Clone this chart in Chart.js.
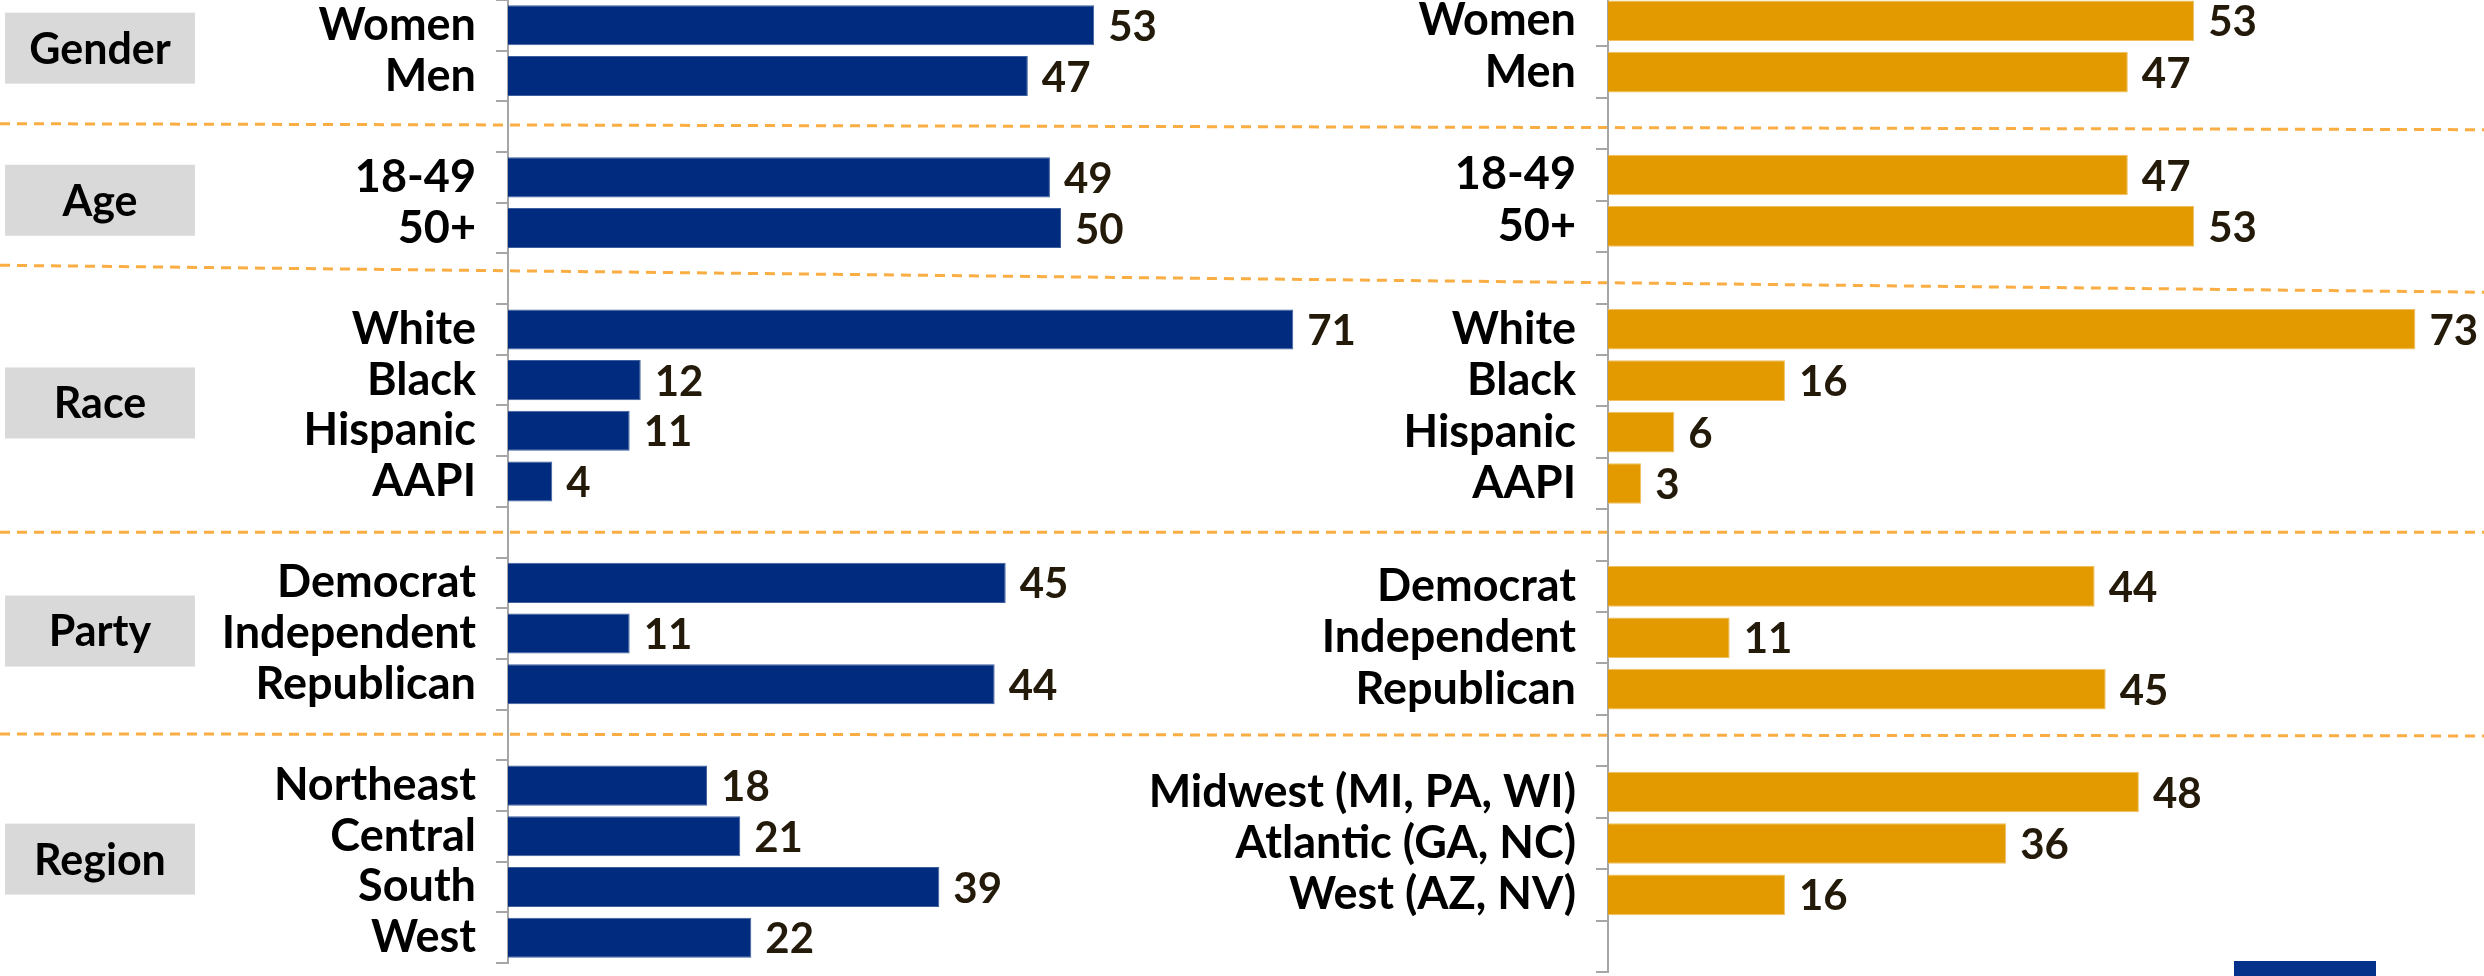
<!DOCTYPE html>
<html lang="en">
<head>
  <meta charset="UTF-8"/>
  <title>Demographics</title>
  <script src="https://cdn.jsdelivr.net/npm/chart.js"></script>
  <style>
    body { margin: 0; background: #fff; }
    .wrap { position: relative; width: 2484px; height: 976px; overflow: hidden; }
    .wrap canvas { position: absolute; left: 0; }
    #left { top: 0; }
    #right { top: -5px; }
    .badge { position: absolute; left: 2234px; top: 961px; width: 142px; height: 20px; background: #04318a; }
  </style>
</head>
<body>
<div class="wrap">
  <canvas id="left" width="2484" height="976"></canvas>
  <canvas id="right" width="2484" height="981"></canvas>
  <div class="badge"></div>
</div>
<script>
  // categories ('' = spacer row between groups)
  const leftLabels = ['Women', 'Men', '', '18-49', '50+', '', 'White', 'Black', 'Hispanic', 'AAPI', '',
    'Democrat', 'Independent', 'Republican', '', 'Northeast', 'Central', 'South', 'West'];
  const leftValues = [53, 47, null, 49, 50, null, 71, 12, 11, 4, null, 45, 11, 44, null, 18, 21, 39, 22];

  const rightLabels = ['Women', 'Men', '', '18-49', '50+', '', 'White', 'Black', 'Hispanic', 'AAPI', '',
    'Democrat', 'Independent', 'Republican', '', 'Midwest (MI, PA, WI)', 'Atlantic (GA, NC)', 'West (AZ, NV)', ''];
  const rightValues = [53, 47, null, 47, 53, null, 73, 16, 6, 3, null, 44, 11, 45, null, 48, 36, 16, null];

  const groupNames = ['Gender', 'Age', 'Race', 'Party', 'Region'];
  const groupFirst = [0, 3, 6, 11, 15];
  const groupLast  = [1, 4, 9, 13, 18];
  const dividerRows = [2, 5, 10, 14];
  const dividerTilt = [6, 27, 0, 2];

  const FONT = 'Lato';
  const labelFont = { family: FONT, size: 45, weight: 'bold' };

  // value labels at the end of each bar
  const valueLabels = {
    id: 'valueLabels',
    afterDatasetsDraw(chart) {
      const ctx = chart.ctx;
      const ds = chart.data.datasets[0];
      ctx.save();
      ctx.font = `bold 42px ${FONT}`;
      ctx.fillStyle = '#231a0a';
      ctx.textBaseline = 'middle';
      chart.getDatasetMeta(0).data.forEach((bar, i) => {
        if (ds.data[i] == null) return;
        ctx.fillText(ds.data[i], bar.x + 14, bar.y + 2);
      });
      ctx.restore();
    }
  };

  // grey group boxes + dashed orange separators (left chart only)
  const groupDecor = {
    id: 'groupDecor',
    beforeDatasetsDraw(chart) {
      const ctx = chart.ctx;
      const y = chart.scales.y;
      ctx.save();
      groupNames.forEach((name, i) => {
        const yc = (y.getPixelForValue(groupFirst[i]) + y.getPixelForValue(groupLast[i])) / 2 - 3;
        ctx.fillStyle = '#d9d9d9';
        ctx.fillRect(5, yc - 35, 190, 71);
        ctx.fillStyle = '#000';
        ctx.font = `bold 43px ${FONT}`;
        ctx.textAlign = 'center';
        ctx.textBaseline = 'middle';
        ctx.fillText(name, 100, yc + 2);
      });
      ctx.strokeStyle = '#f9ad42';
      ctx.lineWidth = 3;
      ctx.setLineDash([10, 7]);
      dividerRows.forEach((row, i) => {
        const yy = y.getPixelForValue(row);
        ctx.beginPath();
        ctx.moveTo(0, yy - dividerTilt[i] / 2);
        ctx.lineTo(chart.width, yy + dividerTilt[i] / 2);
        ctx.stroke();
      });
      ctx.restore();
    }
  };

  function makeChart(id, labels, values, color, edge, axisX, xMax, padBottom, extra) {
    const pxPerUnit = 11.06;
    return new Chart(document.getElementById(id), {
      type: 'bar',
      data: {
        labels,
        datasets: [{
          data: values,
          backgroundColor: color,
          borderColor: edge,
          borderWidth: 1,
          barPercentage: 0.79,
          categoryPercentage: 1.0
        }]
      },
      options: {
        indexAxis: 'y',
        responsive: false,
        animation: false,
        devicePixelRatio: 1,
        layout: { padding: { left: 0, top: 0, bottom: padBottom, right: 2484 - axisX - pxPerUnit * xMax } },
        plugins: { legend: { display: false }, tooltip: { enabled: false } },
        scales: {
          x: { display: false, min: 0, max: xMax },
          y: {
            offset: true,
            afterFit(scale) {
              scale.width = axisX;
              scale.paddingTop = 0;
              scale.paddingBottom = 0;
            },
            grid: { offset: true, drawOnChartArea: false, drawTicks: true, tickLength: 12, color: '#a6a6a6', lineWidth: 2 },
            border: { display: true, color: '#a6a6a6', width: 2 },
            ticks: { color: '#000', font: labelFont, padding: 20, autoSkip: false }
          }
        }
      },
      plugins: extra
    });
  }

  makeChart('left', leftLabels, leftValues, '#002b7f', '#3e5f9e', 508, 80, 13, [groupDecor, valueLabels]);
  makeChart('right', rightLabels, rightValues, '#e29a00', '#f0c060', 1608, 78, 4, [valueLabels]);
</script>
</body>
</html>
